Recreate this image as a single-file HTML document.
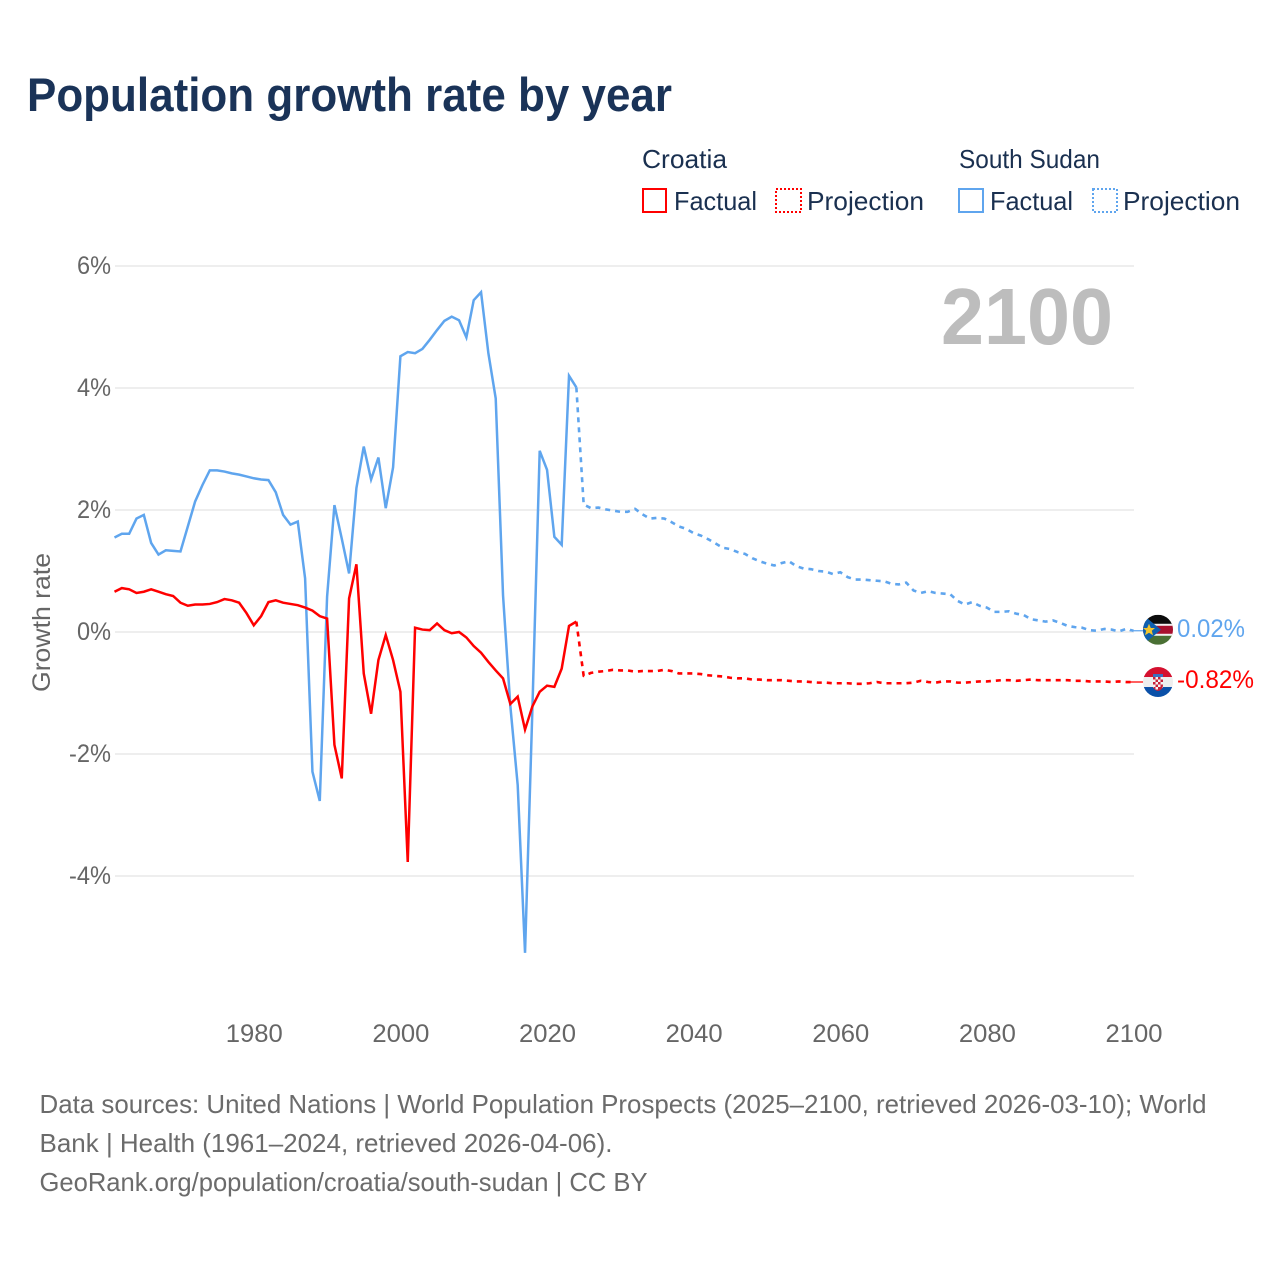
<!DOCTYPE html>
<html lang="en">
<head>
<meta charset="utf-8">
<title>Population growth rate by year</title>
<style>
html,body{margin:0;padding:0;background:#fff;}
svg{display:block;font-family:"Liberation Sans",sans-serif;}
</style>
</head>
<body>
<svg id="chart" xmlns="http://www.w3.org/2000/svg" width="1280" height="1280" viewBox="0 0 1280 1280">
  <defs>
    <clipPath id="flag-clip-ss"><circle cx="0" cy="0" r="15"/></clipPath>
    <clipPath id="flag-clip-hr"><circle cx="0" cy="0" r="15"/></clipPath>
  </defs>
  <rect x="0" y="0" width="1280" height="1280" fill="#fff"/>
  <text x="27" y="111" font-size="47" font-weight="700" fill="#1a3358" textLength="645" lengthAdjust="spacingAndGlyphs">Population growth rate by year</text>

  <g font-size="26" fill="#1a3050">
    <text x="642" y="168" textLength="85" lengthAdjust="spacingAndGlyphs">Croatia</text>
    <rect x="643" y="189" width="23" height="23" fill="none" stroke="#ff0000" stroke-width="2"/>
    <text x="674" y="210" textLength="83" lengthAdjust="spacingAndGlyphs">Factual</text>
    <rect x="776" y="189" width="25" height="23" fill="none" stroke="#ff0000" stroke-width="2" stroke-dasharray="2,2"/>
    <text x="807" y="210" textLength="117" lengthAdjust="spacingAndGlyphs">Projection</text>
    <text x="959" y="168" textLength="141" lengthAdjust="spacingAndGlyphs">South Sudan</text>
    <rect x="959" y="189" width="24" height="23" fill="none" stroke="#5fa5ee" stroke-width="2"/>
    <text x="990" y="210" textLength="83" lengthAdjust="spacingAndGlyphs">Factual</text>
    <rect x="1093" y="189" width="24" height="23" fill="none" stroke="#5fa5ee" stroke-width="2" stroke-dasharray="2,2"/>
    <text x="1123" y="210" textLength="117" lengthAdjust="spacingAndGlyphs">Projection</text>
  </g>

  <g id="grid"></g>
  <g id="y-axis"></g>
  <g id="x-axis"></g>
  <text transform="translate(50,692) rotate(-90)" font-size="25" fill="#666666" textLength="139" lengthAdjust="spacingAndGlyphs">Growth rate</text>
  <text x="941" y="344" font-size="80" font-weight="700" fill="#bdbdbd" textLength="172" lengthAdjust="spacingAndGlyphs">2100</text>
  <g id="series"></g>

  <g id="flag-south-sudan">
    <g clip-path="url(#flag-clip-ss)">
      <rect x="-15" y="-15" width="30" height="10" fill="#0c0c0c"/>
      <rect x="-15" y="-5" width="30" height="10" fill="#a8102e"/>
      <rect x="-15" y="5" width="30" height="10" fill="#4a7034"/>
      <rect x="-15" y="-6" width="30" height="2" fill="#f2f2f2"/>
      <rect x="-15" y="4" width="30" height="2" fill="#f2f2f2"/>
      <polygon points="-15,-15 -15,15 3,0" fill="#0f60b0"/>
      <polygon points="-9,-6 -7.2,-1.8 -3,-1.8 -6.2,1 -5,5.5 -9,3 -13,5.5 -11.8,1 -15,-1.8 -10.8,-1.8" fill="#f3c62e"/>
    </g>
  </g>
  <g id="flag-croatia">
    <g clip-path="url(#flag-clip-hr)">
      <rect x="-15" y="-15" width="30" height="10" fill="#d4102f"/>
      <rect x="-15" y="-5" width="30" height="10" fill="#eeeeee"/>
      <rect x="-15" y="5" width="30" height="10" fill="#0a50a8"/>
      <rect x="-5" y="-6" width="10" height="12" fill="#e8e8e8"/>
      <path d="M-5,-5 H5 V3 Q5,8 0,9 Q-5,8 -5,3 Z" fill="#c8203a"/>
      <path d="M-2.5,-5 h2.5 v2.5 h-2.5 Z M2.5,-5 h2.5 v2.5 h-2.5 Z M-5,-2.5 h2.5 v2.5 h-2.5 Z M0,-2.5 h2.5 v2.5 h-2.5 Z M-2.5,0 h2.5 v2.5 h-2.5 Z M2.5,0 h2.5 v2.5 h-2.5 Z M-5,2.5 h2.5 v2.5 h-2.5 Z M0,2.5 h2.5 v2.5 h-2.5 Z M-2.5,5 h2.5 v2.5 h-2.5 Z" fill="#f4f4f4"/>
      <rect x="-5" y="-8" width="10" height="3" fill="#3a70c0"/>
    </g>
  </g>
  <text id="end-label-south-sudan" x="1177" font-size="25" fill="#5fa5ee" textLength="68" lengthAdjust="spacingAndGlyphs"></text>
  <text id="end-label-croatia" x="1177" font-size="25" fill="#ff0000" textLength="77" lengthAdjust="spacingAndGlyphs"></text>

  <g font-size="26" fill="#6b6b6b">
    <text x="39.5" y="1113" textLength="1167" lengthAdjust="spacingAndGlyphs">Data sources: United Nations | World Population Prospects (2025–2100, retrieved 2026-03-10); World</text>
    <text x="39.5" y="1152" textLength="573" lengthAdjust="spacingAndGlyphs">Bank | Health (1961–2024, retrieved 2026-04-06).</text>
    <text x="39.5" y="1191" textLength="608" lengthAdjust="spacingAndGlyphs">GeoRank.org/population/croatia/south-sudan | CC BY</text>
  </g>
</svg>

<script>
const factualStartYear = 1961;
const projectionStartYear = 2024;
const yTicks = [6, 4, 2, 0, -2, -4];
const xTicks = [1980, 2000, 2020, 2040, 2060, 2080, 2100];

const croatiaFactual = [
  0.66,0.72,0.70,0.64,0.66,0.70,0.66,0.62,0.59,
  0.48,0.43,0.45,0.45,0.46,0.49,0.54,0.52,0.48,0.31,
  0.11,0.26,0.49,0.52,0.48,0.46,0.44,0.40,0.35,0.26,
  0.22,-1.85,-2.40,0.55,1.11,-0.68,-1.34,-0.46,-0.05,-0.46,
  -0.98,-3.77,0.07,0.04,0.03,0.14,0.03,-0.02,0.00,-0.09,
  -0.23,-0.34,-0.49,-0.63,-0.76,-1.18,-1.06,-1.60,-1.22,-0.98,
  -0.88,-0.90,-0.60,0.10,0.17
];
const croatiaProjection = [
  0.17,-0.72,-0.67,-0.65,-0.64,-0.62,-0.63,-0.63,-0.65,-0.64,-0.64,-0.64,-0.62,-0.64,-0.68,-0.68,
  -0.68,-0.69,-0.71,-0.72,-0.73,-0.75,-0.76,-0.76,-0.78,-0.78,
  -0.79,-0.79,-0.79,-0.80,-0.81,-0.81,-0.82,-0.83,-0.83,-0.84,
  -0.84,-0.84,-0.85,-0.85,-0.84,-0.82,-0.84,-0.84,-0.84,-0.84,
  -0.83,-0.80,-0.82,-0.83,-0.81,-0.81,-0.83,-0.83,-0.82,-0.81,
  -0.81,-0.80,-0.79,-0.79,-0.80,-0.79,-0.78,-0.79,-0.79,-0.79,
  -0.79,-0.79,-0.80,-0.80,-0.81,-0.81,-0.81,-0.82,-0.81,-0.82,-0.82
];
const southSudanFactual = [
  1.55,1.61,1.61,1.86,1.92,1.46,1.27,1.34,1.33,
  1.32,1.73,2.14,2.41,2.65,2.65,2.63,2.60,2.58,2.55,
  2.52,2.50,2.49,2.29,1.92,1.76,1.81,0.88,-2.29,-2.77,
  0.58,2.08,1.53,0.96,2.36,3.04,2.50,2.86,2.03,2.70,
  4.52,4.59,4.57,4.64,4.79,4.95,5.10,5.17,5.11,4.83,
  5.44,5.57,4.57,3.83,0.60,-1.22,-2.51,-5.26,-1.28,2.97,
  2.66,1.56,1.43,4.20,4.01
];
const southSudanProjection = [
  4.01,2.09,2.03,2.04,2.01,1.99,1.97,1.97,2.02,1.93,1.86,1.87,1.86,1.80,1.73,1.69,
  1.62,1.58,1.52,1.45,1.38,1.36,1.31,1.28,1.21,1.16,
  1.12,1.09,1.13,1.16,1.08,1.04,1.03,1.00,0.99,0.95,
  0.98,0.90,0.86,0.86,0.85,0.84,0.83,0.79,0.78,0.81,
  0.68,0.64,0.67,0.64,0.63,0.62,0.51,0.45,0.49,0.43,
  0.40,0.33,0.33,0.34,0.30,0.28,0.21,0.19,0.17,0.19,
  0.15,0.10,0.08,0.07,0.03,0.02,0.05,0.04,0.01,0.05,0.02
];

const NS = 'http://www.w3.org/2000/svg';
const RED = '#ff0000';
const BLUE = '#5fa5ee';
function xScale(year) { return 115 + (year - 1961) * (1134 - 115) / (2100 - 1961) - 0.5; }
function yScale(value) { return 632 - value * 61; }
function make(tag, attrs, parent, text) {
  const el = document.createElementNS(NS, tag);
  for (const k in attrs) el.setAttribute(k, attrs[k]);
  if (text !== undefined) el.textContent = text;
  parent.appendChild(el);
  return el;
}
function pointsFor(values, startYear) {
  return values.map(function (v, i) {
    return xScale(startYear + i).toFixed(2) + ',' + yScale(v).toFixed(2);
  }).join(' ');
}

const gridGroup = document.getElementById('grid');
const yAxisGroup = document.getElementById('y-axis');
const xAxisGroup = document.getElementById('x-axis');
const seriesGroup = document.getElementById('series');

yTicks.forEach(function (t) {
  const line = make('line', { x1: 115, x2: 1134, y1: yScale(t), y2: yScale(t), stroke: '#e8e8e8', 'stroke-width': 1.5 }, gridGroup);
  
  
  const label = make('text', { x: 111, y: yScale(t) + 8, 'text-anchor': 'end', 'font-size': 25, fill: '#666666', textLength: t < 0 ? 42 : 34, lengthAdjust: 'spacingAndGlyphs' }, yAxisGroup, t + '%');
  
  
});
xTicks.forEach(function (t) {
  const label = make('text', { x: xScale(t) + 0.5, y: 1042, 'text-anchor': 'middle', 'font-size': 25, fill: '#666666', textLength: 57, lengthAdjust: 'spacingAndGlyphs' }, xAxisGroup, String(t));
  
  
});

function connector(values, color, name) {
  const last = values[values.length - 1];
  const c = make('line', { x1: xScale(2100) - 4, x2: 1146, y1: yScale(last), y2: yScale(last), stroke: color, 'stroke-width': 1.2 }, seriesGroup);
  
  
}

const ssProjLine = make('polyline', { points: pointsFor(southSudanProjection, projectionStartYear), fill: 'none', stroke: BLUE, 'stroke-width': 2.6, 'stroke-dasharray': '5,5', 'stroke-linejoin': 'round' }, seriesGroup);


const ssFactLine = make('polyline', { points: pointsFor(southSudanFactual, factualStartYear), fill: 'none', stroke: BLUE, 'stroke-width': 2.5, 'stroke-linejoin': 'miter' }, seriesGroup);


const hrProjLine = make('polyline', { points: pointsFor(croatiaProjection, projectionStartYear), fill: 'none', stroke: RED, 'stroke-width': 2.6, 'stroke-dasharray': '5,5', 'stroke-linejoin': 'round' }, seriesGroup);


const hrFactLine = make('polyline', { points: pointsFor(croatiaFactual, factualStartYear), fill: 'none', stroke: RED, 'stroke-width': 2.5, 'stroke-linejoin': 'miter' }, seriesGroup);


connector(southSudanProjection, BLUE, 'south-sudan-end-connector');
connector(croatiaProjection, RED, 'croatia-end-connector');

const ssLast = southSudanProjection[southSudanProjection.length - 1];
const hrLast = croatiaProjection[croatiaProjection.length - 1];
document.getElementById('flag-south-sudan').setAttribute('transform', 'translate(1158,' + (yScale(ssLast) - 1) + ')');
document.getElementById('flag-croatia').setAttribute('transform', 'translate(1158,' + yScale(hrLast) + ')');
const ssLabel = document.getElementById('end-label-south-sudan');
ssLabel.setAttribute('y', yScale(ssLast) + 6);
ssLabel.textContent = ssLast.toFixed(2) + '%';
const hrLabel = document.getElementById('end-label-croatia');
hrLabel.setAttribute('y', yScale(hrLast) + 6);
hrLabel.textContent = hrLast.toFixed(2) + '%';
</script>
</body>
</html>
